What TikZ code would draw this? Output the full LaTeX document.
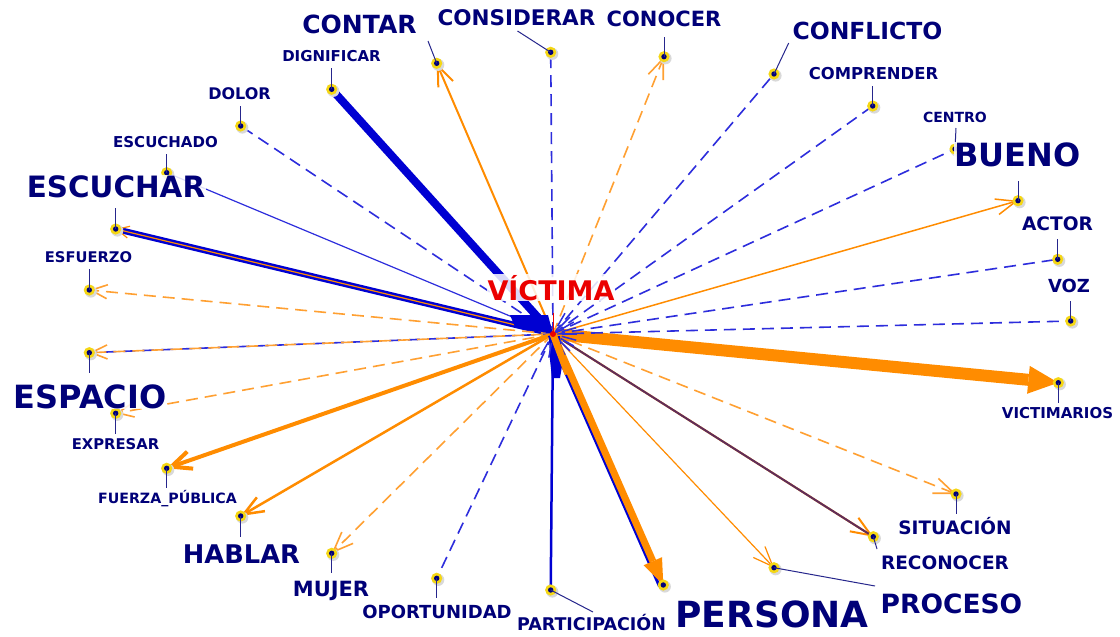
\documentclass[tikz,border=0pt]{standalone}
\usepackage{fontspec}
\setmainfont{DejaVu Sans}
\usetikzlibrary{arrows.meta}
\definecolor{navy}{RGB}{0,0,120}
\definecolor{eblue}{RGB}{45,45,220}
\definecolor{dblue}{RGB}{0,0,210}
\definecolor{eorange}{RGB}{255,140,0}
\definecolor{lorange}{RGB}{255,160,50}
\definecolor{dotyellow}{RGB}{245,215,20}
\definecolor{plum}{RGB}{95,45,90}
\definecolor{vred}{RGB}{235,0,0}
\tikzset{
 lbl/.style={font=\fontsize{#1}{#1}\selectfont\bfseries, text=navy, anchor=base, inner sep=0.5pt, fill=white, fill opacity=0.85, text opacity=1},
 tickline/.style={navy!85, line width=1pt},
 bdash/.style={eblue, line width=1.6pt, dash pattern=on 12pt off 7pt},
 odash/.style={lorange, line width=1.6pt, dash pattern=on 12pt off 7pt},
 barb/.style={-{Straight Barb[length=20pt,width=16pt]}},
}
\begin{document}
\begin{tikzpicture}[x=1pt,y=-1pt]
\useasboundingbox (0,0) rectangle (1120,637);
\fill[white] (0,0) rectangle (1120,637);
% centre
\coordinate (V) at (553,334);
% dots
\coordinate (dig) at (331.7,89.3);
\coordinate (dol) at (240.7,126);
\coordinate (esd) at (166.7,172.7);
\coordinate (esc) at (115.7,229);
\coordinate (esf) at (89.3,290);
\coordinate (esp) at (89.3,352.7);
\coordinate (exr) at (115.7,413.3);
\coordinate (fue) at (166.7,468.3);
\coordinate (hab) at (240.7,516);
\coordinate (muj) at (331.7,553.3);
\coordinate (opo) at (436.7,578.3);
\coordinate (par) at (550.7,590);
\coordinate (per) at (663.3,585);
\coordinate (pro) at (774,567.7);
\coordinate (rec) at (873.3,536.7);
\coordinate (sit) at (956,494);
\coordinate (vic) at (1058.3,382.7);
\coordinate (voz) at (1070.7,321);
\coordinate (act) at (1057.7,259.3);
\coordinate (bue) at (1018,200.7);
\coordinate (cen) at (955,149);
\coordinate (com) at (872.7,106);
\coordinate (cnf) at (774,74);
\coordinate (cnc) at (664,56.7);
\coordinate (cns) at (550.7,52.3);
\coordinate (cnt) at (436.7,63.3);
% tick ends
\coordinate (tdig) at (331.7,68);
\coordinate (tdol) at (240.7,106);
\coordinate (tesd) at (166.7,154);
\coordinate (tesc) at (115.7,208);
\coordinate (tesf) at (89.3,269);
\coordinate (tesp) at (89.3,373);
\coordinate (texr) at (115.7,434);
\coordinate (tfue) at (166.7,488);
\coordinate (thab) at (240.7,537);
\coordinate (tmuj) at (331.7,573);
\coordinate (topo) at (436.7,598);
\coordinate (tpar) at (593,612);
\coordinate (tpro) at (875,586);
\coordinate (trec) at (877,549);
\coordinate (tsit) at (956,514);
\coordinate (tvic) at (1058.3,403);
\coordinate (tvoz) at (1070.7,301);
\coordinate (tact) at (1057.7,239);
\coordinate (tbue) at (1018,181);
\coordinate (tcen) at (956,128);
\coordinate (tcom) at (872.7,86);
\coordinate (tcnf) at (788.7,43);
\coordinate (tcnc) at (664,37);
\coordinate (tcns) at (517.5,31);
\coordinate (tcnt) at (428,41);

% edges
\draw[dblue, line width=8pt] (V) -- (dig);
\draw[bdash] (V) -- (dol);
\draw[eblue, line width=1.2pt] (V) -- (esd);
\draw[dblue, line width=6pt] (V) -- (esc);
\draw[eorange, line width=1.2pt, -{Straight Barb[length=12pt,width=12pt]}] (V) -- (esc);
\draw[odash, -{Straight Barb[length=16pt,width=14pt]}] (V) -- (esf);
\draw[bdash] (V) -- (esp);
\draw[odash, dash phase=9pt, -{Straight Barb[length=16pt,width=14pt]}] (V) -- (esp);
\draw[odash, -{Straight Barb[length=16pt,width=14pt]}] (V) -- (exr);
\draw[eorange, line width=4pt, -{Straight Barb[length=20pt,width=18pt]}] (V) -- (fue);
\draw[eorange, line width=2.5pt, barb] (V) -- (hab);
\draw[odash, barb] (V) -- (muj);
\draw[bdash] (V) -- (opo);
\draw[dblue, line width=2.5pt] (V) -- (par);
\draw[dblue, line width=3pt] ([shift={(-3.7,1.6)}]V) -- ([shift={(-3.7,1.6)}]per);
\draw[eorange, line width=7pt, -{Triangle[length=26pt,width=20pt,line width=0pt]}] (V) -- (per);
\draw[eorange, line width=1.2pt, barb] (V) -- (pro);
\draw[eorange, line width=2pt, barb] (V) -- (rec);
\draw[plum, line width=2pt, shorten >=4pt] (V) -- (rec);
\draw[odash, barb] (V) -- (sit);
\draw[eorange, line width=12pt, -{Triangle[length=30pt,width=28pt,line width=0pt]}] (V) -- (vic);
\draw[bdash] (V) -- (voz);
\draw[bdash] (V) -- (act);
\draw[eorange, line width=1.5pt, barb] (V) -- (bue);
\draw[bdash] (V) -- (cen);
\draw[bdash] (V) -- (com);
\draw[bdash] (V) -- (cnf);
\draw[odash, barb] (V) -- (cnc);
\draw[bdash] (V) -- (cns);
\draw[eorange, line width=2pt, barb] (V) -- (cnt);

% central clutter
\fill[dblue] (510,315) -- (548,315) -- (553,334) -- (515,327) -- cycle;
\fill[dblue] (549,336) -- (560,336) -- (563,360) -- (560,378) -- (552,378) -- (550,360) -- cycle;
\foreach \a in {-60,-45,-30,-15,0,15,30,45,60,75,100,120} {
  \draw[eblue, line width=1.5pt] ([shift={(\a:9)}]V) -- ([shift={(\a:24)}]V);
}
\draw[eorange, line width=7pt] (V) -- ([shift={(15,40)}]V);

% dots
\foreach \n in {dig,dol,esd,esc,esf,esp,exr,fue,hab,muj,opo,par,per,pro,rec,sit,vic,voz,act,bue,cen,com,cnf,cnc,cns,cnt} {
  \fill[gray!30] ([shift={(1.6,1.6)}]\n) circle (6pt);
  \fill[dotyellow] (\n) circle (5.6pt);
  \fill[navy] (\n) circle (2.7pt);
}
% ticks
\foreach \n in {dig,dol,esd,esc,esf,esp,exr,fue,hab,muj,opo,par,pro,rec,sit,vic,voz,act,bue,cen,com,cnf,cnc,cns,cnt} {
  \draw[tickline] (\n) -- (t\n);
}

% labels
\node[lbl=15] (ldig) at (331.5,61) {DIGNIFICAR};
\node[lbl=16] (ldol) at (239.5,99) {DOLOR};
\node[lbl=15] (lesd) at (165.5,147) {ESCUCHADO};
\node[lbl=29.4] (lesc) at (116,197) {ESCUCHAR};
\node[lbl=14.7] (lesf) at (88.5,262) {ESFUERZO};
\node[lbl=32] (lesp) at (90,408) {ESPACIO};
\node[lbl=14.8] (lexr) at (115.5,449) {EXPRESAR};
\node[lbl=14.2] (lfue) at (167.5,503) {FUERZA\_PÚBLICA};
\node[lbl=25.7] (lhab) at (241.5,563) {HABLAR};
\node[lbl=21] (lmuj) at (331,596) {MUJER};
\node[lbl=18] (lopo) at (437,618) {OPORTUNIDAD};
\node[lbl=17.5] (lpar) at (591.5,630) {PARTICIPACIÓN};
\node[lbl=36] (lper) at (772,627) {PERSONA};
\node[lbl=26.5] (lpro) at (951.5,613) {PROCESO};
\node[lbl=18.5] (lrec) at (945,569) {RECONOCER};
\node[lbl=18.5] (lsit) at (955,534) {SITUACIÓN};
\node[lbl=15] (lvic) at (1057.5,418) {VICTIMARIOS};
\node[lbl=18] (lvoz) at (1069,292) {VOZ};
\node[lbl=18.6] (lact) at (1057.5,230) {ACTOR};
\node[lbl=32] (lbue) at (1017.5,166) {BUENO};
\node[lbl=14] (lcen) at (955,122) {CENTRO};
\node[lbl=16.4] (lcom) at (873.5,79) {COMPRENDER};
\node[lbl=23.5] (lcnf) at (867.5,39) {CONFLICTO};
\node[lbl=21] (lcnc) at (664,27) {CONOCER};
\node[lbl=21.5] (lcns) at (516.5,25) {CONSIDERAR};
\node[lbl=25] (lcnt) at (359.5,33) {CONTAR};
\node[lbl=27, text=vred] (lV) at (551,300) {VÍCTIMA};
\draw[vred, line width=1pt] (553,313) -- (V);
\fill[vred] (V) circle (3pt);
\end{tikzpicture}
\end{document}
